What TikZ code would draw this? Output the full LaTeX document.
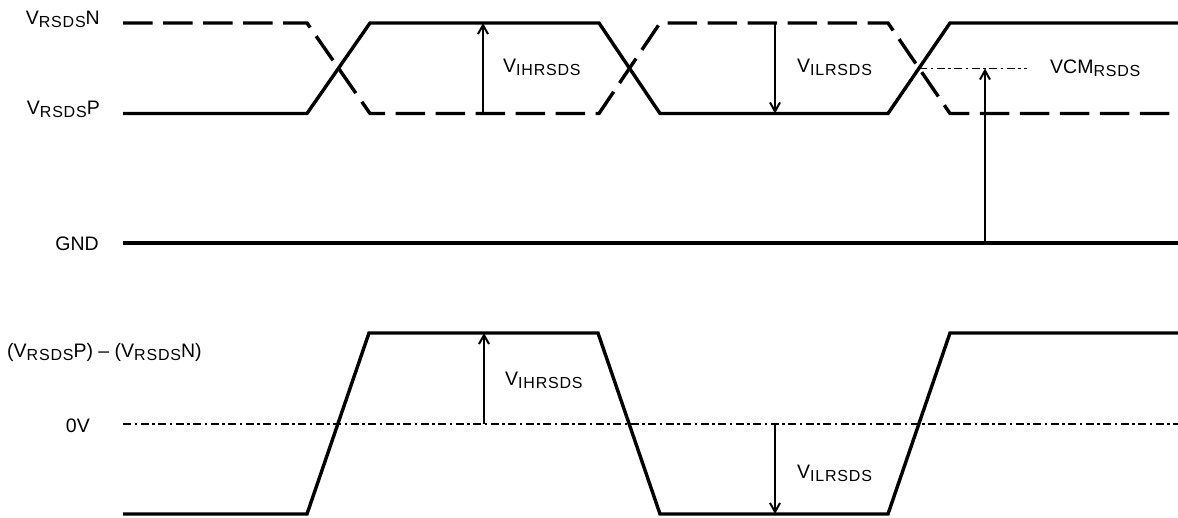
\documentclass[tikz,border=0pt]{standalone}
\usepackage{fontspec}
\setmainfont{Liberation Sans}
\newfontfamily\subf[LetterSpace=5]{Liberation Sans}
\usetikzlibrary{arrows.meta}
\newcommand{\lowsub}[1]{\raisebox{-3pt}{\fontsize{16}{16}\selectfont\subf #1}}
\begin{document}
\begin{tikzpicture}[x=1pt,y=-1pt,
  sig/.style={line width=3.4pt, line join=miter},
  sigdash/.style={sig, dash pattern=on 29.5pt off 10.5pt},
  dimarrow/.style={line width=1.3pt, -{Straight Barb[length=9pt,width=10pt,line width=2pt]}},
  refline/.style={line width=1.3pt, dash pattern=on 8pt off 3.5pt on 2.5pt off 3.5pt},
  lbl/.style={inner sep=0pt, font=\fontsize{19.5}{19.5}\selectfont}]
\useasboundingbox (0,0) rectangle (1178,518);

% ---- top: single-ended signals ----
\draw[sigdash] (123,23) -- (307,23) -- (370,113.5) -- (599,113.5) -- (660,23) -- (888,23) -- (950,113.5) -- (1178,113.5);
\draw[sig] (123,113.5) -- (307,113.5) -- (370,23) -- (599,23) -- (660,113.5) -- (888,113.5) -- (950,23) -- (1178,23);

% GND
\coordinate (gndL) at (123,243);
\coordinate (gndR) at (1178,243);
\draw[sig] (gndL) -- (gndR);

% arrows top
\coordinate (vihLo) at (483,113.5);
\coordinate (vihHi) at (483,23);
\draw[dimarrow] (vihLo) -- (vihHi);
\coordinate (vilHi) at (775,23);
\coordinate (vilLo) at (775,113.5);
\draw[dimarrow] (vilHi) -- (vilLo);

% VCM
\coordinate (cross) at (919,68.5);
\coordinate (vcmEnd) at (1027,68.5);
\draw[refline] (cross) -- (vcmEnd);
\coordinate (vcmBase) at (985,243);
\coordinate (vcmTip) at (985,68.5);
\draw[dimarrow] (vcmBase) -- (vcmTip);

% labels top
\node[lbl, anchor=base east] (lN) at (100,25) {V\lowsub{RSDS}N};
\node[lbl, anchor=base east] (lP) at (100,115) {V\lowsub{RSDS}P};
\node[lbl, anchor=base east] (lG) at (99,251) {GND};
\node[lbl, anchor=base west] (lvih1) at (503,73) {V\lowsub{IHRSDS}};
\node[lbl, anchor=base west] (lvil1) at (797,73) {V\lowsub{ILRSDS}};
\node[lbl, anchor=base west] (lvcm) at (1050,74) {VCM\lowsub{RSDS}};

% ---- bottom: differential ----
\coordinate (zL) at (123,424);
\coordinate (zR) at (1178,424);
\draw[refline] (zL) -- (zR);
\draw[sig] (123,514) -- (307,514) -- (369,333) -- (598,333) -- (660,514) -- (888,514) -- (950,333) -- (1178,333);

\coordinate (bvihLo) at (484,424);
\coordinate (bvihHi) at (484,333);
\draw[dimarrow] (bvihLo) -- (bvihHi);
\coordinate (bvilHi) at (775,424);
\coordinate (bvilLo) at (775,514);
\draw[dimarrow] (bvilHi) -- (bvilLo);

\node[lbl, anchor=base west] (ldiff) at (7,358) {(V\lowsub{RSDS}P) -- (V\lowsub{RSDS}N)};
\node[lbl, anchor=base east] (l0) at (90,432) {0V};
\node[lbl, anchor=base west] (lvih2) at (505,385) {V\lowsub{IHRSDS}};
\node[lbl, anchor=base west] (lvil2) at (797,478) {V\lowsub{ILRSDS}};
\end{tikzpicture}
\end{document}
